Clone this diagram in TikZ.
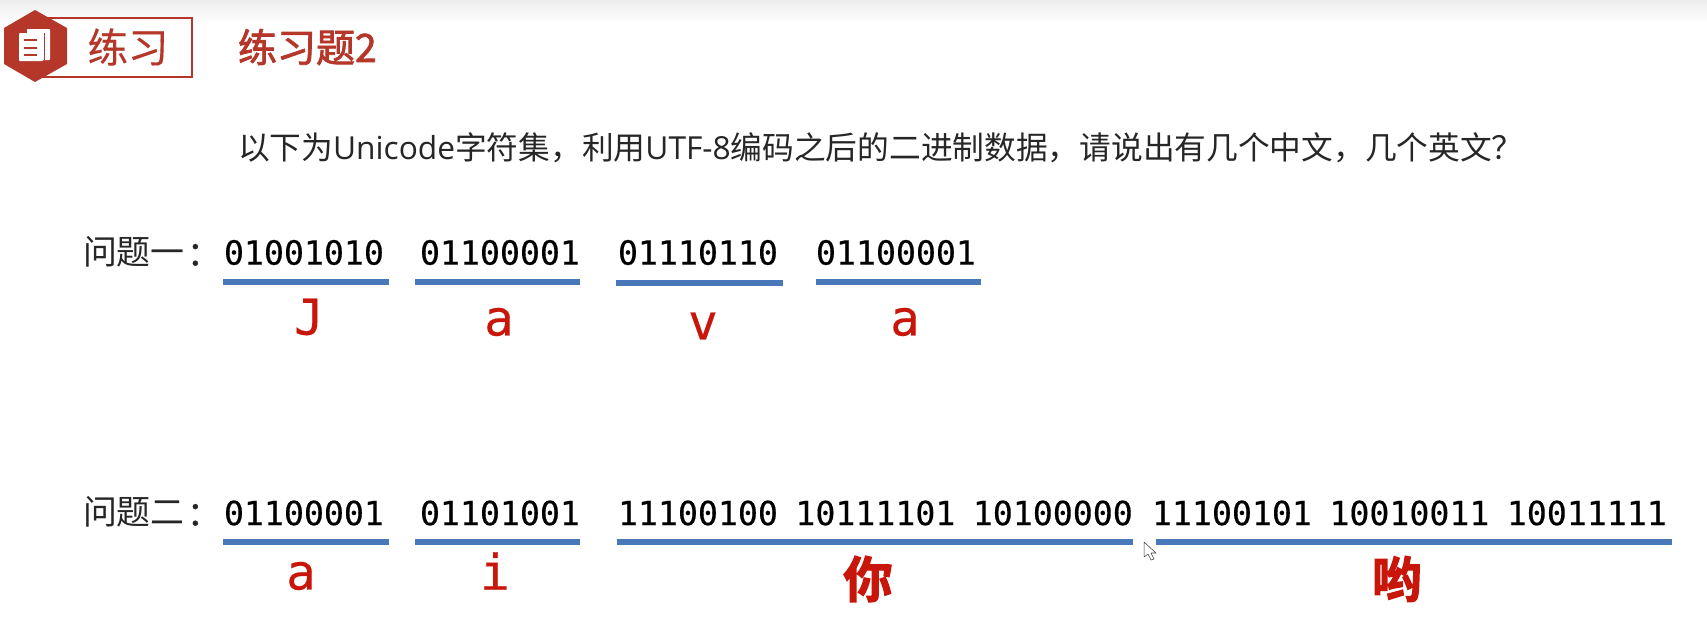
\documentclass[tikz,border=0pt]{standalone}
\usepackage{fontspec}
\usepackage{xcolor}
\usepackage{tikz}
\usetikzlibrary{positioning,calc}
\newfontfamily\cjk{Noto Sans CJK SC}
\newfontfamily\cjkmid[FakeBold=0.3]{Noto Sans CJK SC}
\newfontfamily\cjkbold[FakeBold=2]{Noto Sans CJK SC}
\newfontfamily\cjktc[FakeBold=0.8]{Noto Sans CJK TC}
\newfontfamily\cjkheavy[FakeBold=2.5]{Noto Sans CJK SC Bold}
\newfontfamily\latn{Open Sans}
\newfontfamily\bin[FakeBold=0.4]{DejaVu Sans Mono}
\definecolor{brick}{RGB}{181,55,42}
\definecolor{barblue}{RGB}{72,120,186}
\definecolor{ansred}{RGB}{200,22,10}
\definecolor{inkdark}{RGB}{38,38,38}
\newcommand{\Qcolon}{\kern-3.6pt\raisebox{-1.8pt}{\cjktc ：}}
\begin{document}
\begin{tikzpicture}[
  x=0.02cm,y=-0.02cm,
  every node/.style={inner sep=0pt,outer sep=0pt},
  heading/.style={font=\cjkmid\fontsize{23}{27}\selectfont,text=brick},
  note/.style={font=\cjk\fontsize{18.05}{22}\selectfont,text=inkdark},
  ask/.style={font=\cjk\fontsize{19.3}{23}\selectfont,text=inkdark,anchor=west},
  bits/.style={font=\bin\fontsize{18.9}{22}\selectfont,text=black,anchor=west},
  bar/.style={fill=barblue,minimum height=0.11cm},
  ans/.style={font=\bin\fontsize{28}{33}\selectfont,text=ansred},
  hanzi/.style={font=\cjkheavy\fontsize{28}{33}\selectfont,text=ansred},
]
  \path[use as bounding box,fill=white] (0,0) rectangle (1707,626);
  % top edge of the slide
  \shade[top color=black!7,bottom color=white] (0,0) rectangle (1707,24);
  % title tag
  \node[draw=brick,line width=1pt,minimum width=3.1cm,minimum height=1.18cm] (tag) at (114.5,47.5) {};
  \fill[brick] (35,10) -- (67,28) -- (67,64) -- (35,82) -- (4,64) -- (4,28) -- cycle;
  \fill[white,rounded corners=0.5pt] (26,29) rectangle (50,60);
  \fill[white,rounded corners=0.5pt] (19,33) rectangle (43,61);
  \draw[brick,line width=0.5pt] (26,29) -- (26,33) (44,33) -- (44,60);
  \draw[brick,line width=0.9pt] (24,40) -- (37,40) (24,48) -- (37,48) (24,55) -- (37,55);
  \node[heading] (tagtext) at (128,47) {练习};
  \node[heading,anchor=west,font=\cjkbold\fontsize{22.2}{26}\selectfont] (title) at (238,47) {练习题2};
  % question
  \node[note,anchor=west] (question) at (238,148) {以下为{\latn Unicode}字符集，利用{\latn UTF-8}编码之后的二进制数据，请说出有几个中文，几个英文？};
  % first row
  \node[ask] (askA) at (83,252) {问题一\Qcolon};
  \node[bits] (binA) at (224,252.5) {01001010};
  \node[bits] (binB) at (420,252.5) {01100001};
  \node[bits] (binC) at (618,252.5) {01110110};
  \node[bits] (binD) at (816,252.5) {01100001};
  \node[bar,minimum width=3.32cm] (barA) at (306,282) {};
  \node[bar,minimum width=3.32cm] (barB) at (497.5,282) {};
  \node[bar,minimum width=3.34cm] (barC) at (699.5,283) {};
  \node[bar,minimum width=3.32cm] (barD) at (898.5,282) {};
  \node[ans] (ansA) at (309,317) {J};
  \node[ans] (ansB) at (499,322) {a};
  \node[ans] (ansC) at (703,326) {v};
  \node[ans] (ansD) at (905,322) {a};
  % second row
  \node[ask] (askB) at (83,512) {问题二\Qcolon};
  \node[bits] (binE) at (224,513) {01100001};
  \node[bits] (binF) at (420,513) {01101001};
  \node[bits] (binG) at (618,513) {11100100};
  \node[bits,right=0.35cm of binG] (binH) {10111101};
  \node[bits,right=0.35cm of binH] (binI) {10100000};
  \node[bits] (binJ) at (1152,513) {11100101};
  \node[bits,right=0.35cm of binJ] (binK) {10010011};
  \node[bits,right=0.35cm of binK] (binL) {10011111};
  \node[bar,minimum width=3.32cm] (barE) at (306,542) {};
  \node[bar,minimum width=3.32cm] (barF) at (497.5,542) {};
  \node[bar,minimum width=10.34cm] (barG) at (875,542) {};
  \node[bar,minimum width=10.32cm] (barH) at (1414,542) {};
  \node[ans] (ansE) at (301,576) {a};
  \node[ans] (ansF) at (495,571) {i};
  \node[hanzi] (ansG) at (868,579) {你};
  \node[hanzi] (ansH) at (1397,579) {哟};
  % pointer
  \draw[black!75,fill=white,line width=0.3pt,line join=round] (1144,542) -- (1144,557) -- (1148,554) -- (1151,560) -- (1154,559) -- (1151,553) -- (1156,553) -- cycle;
\end{tikzpicture}
\end{document}
